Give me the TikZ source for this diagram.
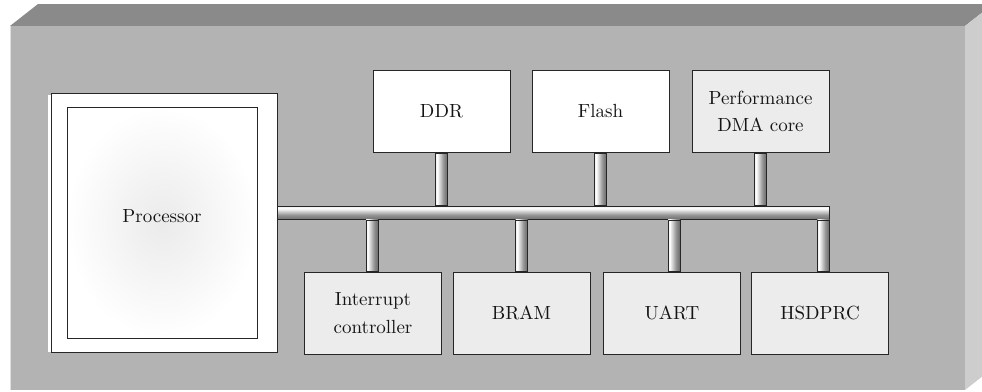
\documentclass[tikz,border=0pt]{standalone}
\usepackage{fontspec}
\usetikzlibrary{calc}

% regular-weight cut of Latin Modern, a little sturdier at display sizes
\newfontfamily\labelfont{lmroman10-regular.otf}

\definecolor{frontgray}{HTML}{B3B3B3}
\definecolor{topgray}{HTML}{8A8A8A}
\definecolor{sidegray}{HTML}{CDCDCD}
\definecolor{boxgray}{HTML}{ECECEC}
\definecolor{edgegray}{HTML}{262626}
\definecolor{textgray}{HTML}{141414}

% metallic tube look for the bus (horizontal) and its taps (vertical)
\pgfdeclareverticalshading{tubeh}{100bp}{%
  color(0bp)=(black!32); color(22bp)=(black!60); color(42bp)=(black!42);
  color(66bp)=(white); color(100bp)=(black!28)}
\pgfdeclarehorizontalshading{tubev}{100bp}{%
  color(0bp)=(black!30); color(32bp)=(white); color(58bp)=(black!42);
  color(78bp)=(black!62); color(100bp)=(black!32)}

\tikzset{
  label/.style={text=textgray, font=\labelfont\fontsize{19}{27.5}\selectfont},
  unit/.style={label, draw=edgegray, line width=1pt, minimum width=137pt,
    minimum height=82pt, inner sep=0pt, align=center},
  whitebox/.style={unit, fill=white},
  greybox/.style={unit, fill=boxgray},
  tubeH/.style={shading=tubeh, draw=edgegray, line width=0.8pt},
  tubeV/.style={shading=tubev, draw=edgegray, line width=0.8pt},
}

\begin{document}
\begin{tikzpicture}[x=1pt, y=-1pt]
\useasboundingbox (0,0) rectangle (982,391);
\clip (0,0) rectangle (982,391);
\fill[white] (0,0) rectangle (982,391);

% the board, drawn as a box seen slightly from above
\fill[topgray] (10,26) -- (38,4) -- (993,4) -- (965,26) -- cycle;
\fill[sidegray] (965,26) -- (993,4) -- (993,368) -- (965,390) -- cycle;
\fill[frontgray] (10,26) rectangle (965,390);
\draw[black!12, line width=1pt] (10.5,26) -- (10.5,390);

% processor block
\fill[white] (48,95) rectangle (52,352);
\node[draw=edgegray, line width=1pt, fill=white, minimum width=226pt,
  minimum height=259pt, inner sep=0pt] (procframe) at (164,222.5) {};
\node[draw=edgegray, line width=1pt, shading=radial, inner color=black!8,
  outer color=white, minimum width=190pt, minimum height=231pt,
  inner sep=0pt] (proc) at (162,222.5) {};
\node[label, inner sep=0pt] (proclabel)
  at ($(proc.center)+(0,-6.5)$) {Processor};

% peripherals above the bus
\node[whitebox] (ddr)   at (441.5,111.5) {DDR};
\node[whitebox] (flash) at (600.5,111.5) {Flash};
\node[greybox]  (dma)   at (760.5,111.5) {Performance\\DMA core};

% peripherals below the bus
\node[greybox] (intc)   at (373,313) {Interrupt\\controller};
\node[greybox] (bram)   at (521.5,313) {BRAM};
\node[greybox] (uart)   at (672,313) {UART};
\node[greybox] (hsdprc) at (820,313) {HSDPRC};

% system bus
\node[tubeH, minimum width=552pt, minimum height=13.5pt, inner sep=0pt]
  (bus) at (553,212.75) {};

% taps from the bus to each peripheral
\path[tubeV] ($(ddr.south)+(-6,0)$) rectangle ($(ddr.south |- bus.north)+(6,0)$);
\path[tubeV] ($(flash.south)+(-6,0)$) rectangle ($(flash.south |- bus.north)+(6,0)$);
\path[tubeV] ($(dma.south)+(-6,0)$) rectangle ($(dma.south |- bus.north)+(6,0)$);
\path[tubeV] ($(intc.north)+(-7,0)$) rectangle ($(intc.north |- bus.south)+(5,0)$);
\path[tubeV] ($(bram.north)+(-6,0)$) rectangle ($(bram.north |- bus.south)+(6,0)$);
\path[tubeV] ($(uart.north)+(-4,0)$) rectangle ($(uart.north |- bus.south)+(8,0)$);
\path[tubeV] ($(bus.south east)+(-12,0)$) rectangle (bus.south east |- hsdprc.north);
\end{tikzpicture}
\end{document}
